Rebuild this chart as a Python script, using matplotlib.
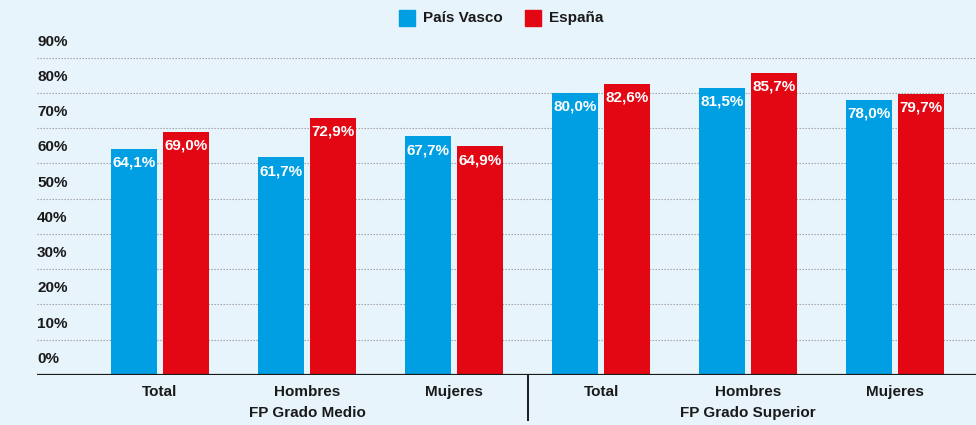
import matplotlib
matplotlib.use("Agg")
import matplotlib.pyplot as plt
from matplotlib.patches import Rectangle
from matplotlib.lines import Line2D

categories = ["Total", "Hombres", "Mujeres", "Total", "Hombres", "Mujeres"]
groups = ["FP Grado Medio", "FP Grado Superior"]
pais_vasco = [64.1, 61.7, 67.7, 80.0, 81.5, 78.0]
espana = [69.0, 72.9, 64.9, 82.6, 85.7, 79.7]
series_names = ["País Vasco", "España"]
yticks = [0, 10, 20, 30, 40, 50, 60, 70, 80, 90]

BG = "#E8F4FC"
BLUE = "#009FE3"
RED = "#E30613"
INK = "#1a1a1a"
FONT = ["Liberation Sans", "DejaVu Sans"]
PT = 72 / 100  # points per pixel

W, H = 976, 425
fig = plt.figure(figsize=(W / 100, H / 100), dpi=100, facecolor=BG)
left, right, bottom, top = 37, 976, 375, 40
ax = fig.add_axes([left / W, 1 - bottom / H, (right - left) / W, (bottom - top) / H])
ax.set_facecolor(BG)

xs = list(range(len(categories)))
bw = 0.313
off = 0.177
ax.bar([x - off for x in xs], pais_vasco, width=bw, color=BLUE, zorder=3)
ax.bar([x + off for x in xs], espana, width=bw, color=RED, zorder=3)

for sign, vals in ((-1, pais_vasco), (1, espana)):
    for x, v in zip(xs, vals):
        ax.annotate(f"{v:.1f}%".replace(".", ","), (x + sign * off, v), xytext=(0, -14 * PT),
                    textcoords="offset points", ha="center", va="center", color="white",
                    fontsize=11, fontweight="bold", family=FONT, zorder=4)

ax.set_xlim(-0.837, 5.55)
ax.set_ylim(0, 95)
for sp in ax.spines.values():
    sp.set_visible(False)
ax.axhline(0, color=INK, lw=1.6, zorder=5)
for t in yticks[1:]:
    ax.axhline(t, color="#9a9a9a", lw=0.8, ls=(0, (1.2, 1.5)), zorder=1)
ax.set_xticks([])
ax.set_yticks([])

for t in yticks:
    ax.annotate(f"{t}%", (0, t), xycoords=("axes fraction", "data"), xytext=(0, 16 * PT),
                textcoords="offset points", ha="left", va="center", fontsize=11,
                fontweight="bold", family=FONT, color=INK)

for x, c in zip(xs, categories):
    ax.annotate(c, (x, 0), xytext=(0, -17 * PT), textcoords="offset points", ha="center",
                va="center", fontsize=11, fontweight="bold", family=FONT, color=INK,
                annotation_clip=False)
for gi, g in enumerate(groups):
    ax.annotate(g, (gi * 3 + 1, 0), xytext=(0, -38 * PT), textcoords="offset points",
                ha="center", va="center", fontsize=11, fontweight="bold", family=FONT,
                color=INK, annotation_clip=False)

fig.add_artist(Line2D([528 / W, 528 / W], [1 - 375 / H, 1 - 420 / H], color=INK, lw=1.4))

# legend
for sx, tx, col, name in [(399, 423, BLUE, series_names[0]), (525, 549, RED, series_names[1])]:
    fig.add_artist(Rectangle((sx / W, 1 - 26 / H), 16 / W, 16 / H, color=col, transform=fig.transFigure))
    fig.text(tx / W, 1 - 18 / H, name, ha="left", va="center", fontsize=11,
             fontweight="bold", family=FONT, color=INK)

fig.savefig("out.png", dpi=100, facecolor=BG)
